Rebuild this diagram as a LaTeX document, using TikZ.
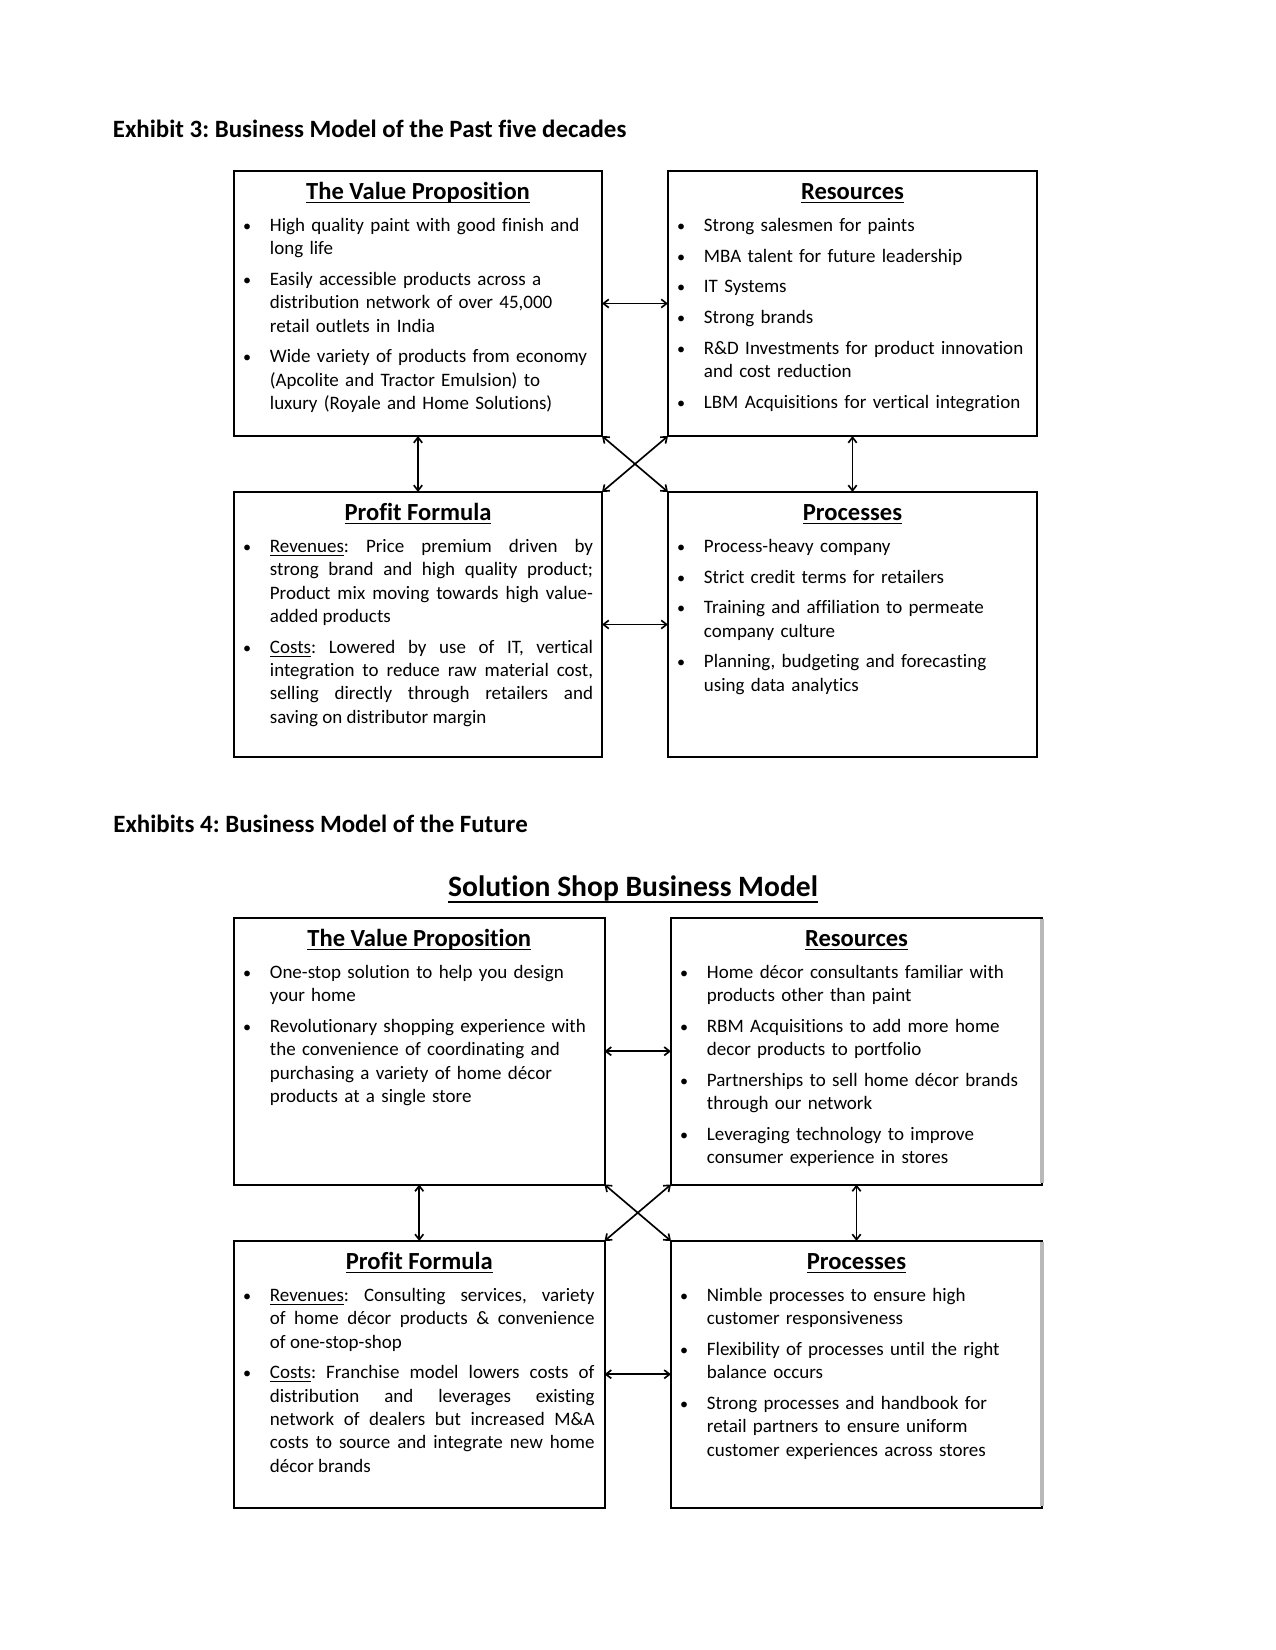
\documentclass[tikz,border=0pt]{standalone}
\usepackage{fontspec}
\setmainfont{Carlito}[Ligatures={NoCommon}]
\usetikzlibrary{arrows.meta}
\frenchspacing
\newcommand\undl[3]{\setbox0\hbox{#3}\rlap{\rule[-#1]{\wd0}{#2}}\box0}
\newcommand\hdul[1]{\undl{1.9pt}{0.62pt}{#1}}
\newcommand\bdul[1]{\undl{1.65pt}{0.5pt}{#1}}
\newcommand\bitem{\par\noindent\rule{0pt}{8pt}\llap{\makebox[0pt][c]{\scalebox{0.85}{\textbullet}}\hspace{10.94pt}}}
\newcommand\mkbox[5]{%
  \pgfmathsetmacro\bxcx{(#2+#4)/2}%
  \pgfmathsetmacro\bxcy{(#3+#5)/2}%
  \pgfmathsetmacro\bxw{(#4-#2)*0.48}%
  \pgfmathsetmacro\bxh{(#5-#3)*0.48}%
  \node[box,minimum width=\bxw pt,minimum height=\bxh pt] (#1) at (\bxcx,\bxcy) {};}
\tikzset{
  box/.style={draw, line width=0.96pt, inner sep=0pt, outer sep=0pt},
  head/.style={anchor=base, inner sep=0pt, font=\fontsize{11.8pt}{14pt}\selectfont\bfseries},
  body/.style={anchor=north west, inner sep=0pt, text width=#1, align=left,
    font=\fontsize{9.12pt}{11.2pt}\selectfont,
    execute at begin node={\setlength{\parskip}{3.5pt}\hyphenpenalty=10000 \exhyphenpenalty=10000 }},
  jbody/.style={body=#1, align=justify},
  conn/.style={{Straight Barb[length=2.6pt,width=4pt]}-{Straight Barb[length=2.6pt,width=4pt]}, line width=0.8pt},
  title/.style={anchor=base west, inner sep=0pt, font=\fontsize{11.95pt}{14pt}\selectfont\bfseries}
}
\begin{document}
\begin{tikzpicture}[x=0.48pt, y=-0.48pt]
\fill[white] (0,0) rectangle (1275,1650);
\useasboundingbox (0,0) rectangle (1275,1650);

% ---------- Exhibit 3 ----------
\node[title] (t3) at (112.5,138) {Exhibit 3: Business Model of the Past five decades};

\mkbox{pvp}{234}{171}{602}{436}
\mkbox{pres}{668}{171}{1037}{436}
\mkbox{ppf}{234}{492}{602}{757}
\mkbox{ppr}{668}{492}{1037}{757}

\node[head] (pvph) at ([yshift=-13.5pt]pvp.north) {\hdul{The Value Proposition}};
\node[head] (presh) at ([yshift=-13.5pt]pres.north) {\hdul{Resources}};
\node[head] (ppfh) at ([yshift=-13.5pt]ppf.north) {\hdul{Profit Formula}};
\node[head] (pprh) at ([yshift=-13.5pt]ppr.north) {\hdul{Processes}};

\node[body=170pt] (pvpb) at ([xshift=17.04pt,yshift=-14.2pt]pvp.north west) {%
\bitem High quality paint with good finish and\newline long life
\bitem Easily accessible products across a\newline distribution network of over 45,000\newline retail outlets in India
\bitem Wide variety of products from economy\newline (Apcolite and Tractor Emulsion) to\newline luxury (Royale and Home Solutions)};

\node[body=170pt] (presb) at ([xshift=17.04pt,yshift=-14.2pt]pres.north west) {%
\bitem Strong salesmen for paints
\bitem MBA talent for future leadership
\bitem IT Systems
\bitem Strong brands
\bitem R\&D Investments for product innovation\newline and cost reduction
\bitem LBM Acquisitions for vertical integration};

\node[jbody=155.1pt] (ppfb) at ([xshift=17.04pt,yshift=-14.2pt]ppf.north west) {%
\bitem \bdul{Revenues}: Price premium driven by\linebreak strong brand and high quality product;\linebreak Product mix moving towards high value-\linebreak added products
\bitem \bdul{Costs}: Lowered by use of IT, vertical\linebreak integration to reduce raw material cost,\linebreak selling directly through retailers and\linebreak saving on distributor margin};

\node[body=170pt] (pprb) at ([xshift=17.04pt,yshift=-14.2pt]ppr.north west) {%
\bitem Process-heavy company
\bitem Strict credit terms for retailers
\bitem Training and affiliation to permeate\newline company culture
\bitem Planning, budgeting and forecasting\newline using data analytics};

\draw[conn] (pvp.east) -- (pres.west);
\draw[conn] (ppf.east) -- (ppr.west);
\draw[conn] (pvp.south) -- (ppf.north);
\draw[conn] (pres.south) -- (ppr.north);
\draw[conn] (pvp.south east) -- (ppr.north west);
\draw[conn] (pres.south west) -- (ppf.north east);

% ---------- Exhibit 4 ----------
\node[title] (t4) at (113,832.5) {Exhibits 4: Business Model of the Future};
\node[anchor=base, inner sep=0pt, font=\fontsize{14.2pt}{17pt}\selectfont\bfseries] (sol) at (633,896) {\undl{3.3pt}{0.85pt}{Solution Shop Business Model}};

\mkbox{fvp}{234}{918}{604.5}{1184.5}
\mkbox{fres}{671}{918}{1042}{1184.5}
\mkbox{fpf}{234}{1241}{604.5}{1507.5}
\mkbox{fpr}{671}{1241}{1042}{1507.5}
\draw[gray!55, line width=1.6pt] ([yshift=-0.6pt]fres.north east) -- ([yshift=0.6pt]fres.south east);
\draw[gray!55, line width=1.6pt] ([yshift=-0.6pt]fpr.north east) -- ([yshift=0.6pt]fpr.south east);

\node[head] (fvph) at ([yshift=-13.5pt]fvp.north) {\hdul{The Value Proposition}};
\node[head] (fresh) at ([yshift=-13.5pt]fres.north) {\hdul{Resources}};
\node[head] (fpfh) at ([yshift=-13.5pt]fpf.north) {\hdul{Profit Formula}};
\node[head] (fprh) at ([yshift=-13.5pt]fpr.north) {\hdul{Processes}};

\node[body=170pt] (fvpb) at ([xshift=17.04pt,yshift=-14.2pt]fvp.north west) {%
\bitem One-stop solution to help you design\newline your home
\bitem Revolutionary shopping experience with\newline the convenience of coordinating and\newline purchasing a variety of home décor\newline products at a single store};

\node[body=170pt] (fresb) at ([xshift=17.04pt,yshift=-14.2pt]fres.north west) {%
\bitem Home décor consultants familiar with\newline products other than paint
\bitem RBM Acquisitions to add more home\newline decor products to portfolio
\bitem Partnerships to sell home décor brands\newline through our network
\bitem Leveraging technology to improve\newline consumer experience in stores};

\node[jbody=155.8pt] (fpfb) at ([xshift=17.04pt,yshift=-14.2pt]fpf.north west) {%
\bitem \bdul{Revenues}: Consulting services, variety\linebreak of home décor products \& convenience\linebreak of one-stop-shop
\bitem \bdul{Costs}: Franchise model lowers costs of\linebreak distribution and leverages existing\linebreak network of dealers but increased M\&A\linebreak costs to source and integrate new home\linebreak décor brands};

\node[body=170pt] (fprb) at ([xshift=17.04pt,yshift=-14.2pt]fpr.north west) {%
\bitem Nimble processes to ensure high\newline customer responsiveness
\bitem Flexibility of processes until the right\newline balance occurs
\bitem Strong processes and handbook for\newline retail partners to ensure uniform\newline customer experiences across stores};

\draw[conn] (fvp.east) -- (fres.west);
\draw[conn] (fpf.east) -- (fpr.west);
\draw[conn] (fvp.south) -- (fpf.north);
\draw[conn] (fres.south) -- (fpr.north);
\draw[conn] (fvp.south east) -- (fpr.north west);
\draw[conn] (fres.south west) -- (fpf.north east);
\end{tikzpicture}
\end{document}
